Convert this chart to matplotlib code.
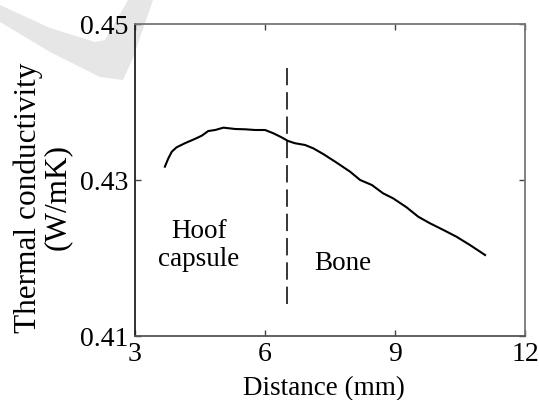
import matplotlib
matplotlib.use('Agg')
import matplotlib.pyplot as plt
from matplotlib.patches import Polygon

plt.rcParams['font.family'] = ['Liberation Serif', 'DejaVu Serif']

# thermal conductivity profile
distance = [3.70, 3.78, 3.86, 3.97, 4.16, 4.39, 4.55, 4.70, 4.86, 5.05,
            5.32, 5.55, 5.78, 6.01, 6.20, 6.39, 6.54, 6.70, 6.93, 7.12,
            7.35, 7.66, 7.97, 8.20, 8.47, 8.73, 8.96, 9.27, 9.54, 9.81,
            10.12, 10.42, 10.73, 11.08]
conductivity = [0.43171, 0.43278, 0.43363, 0.43419, 0.43471, 0.43526, 0.43568, 0.43628, 0.43641, 0.43671,
                0.43654, 0.43650, 0.43641, 0.43641, 0.43599, 0.43547, 0.43500, 0.43471, 0.43449, 0.43406,
                0.43333, 0.43222, 0.43106, 0.43000, 0.42936, 0.42829, 0.42765, 0.42650, 0.42529, 0.42445,
                0.42359, 0.42273, 0.42167, 0.42038]

boundary_x = 6.51
boundary_y = [0.4141, 0.4444]

xticks = [3, 6, 9, 12]
yticks = [0.41, 0.43, 0.45]
ytick_labels = ['0.41', '0.43', '0.45']

W, H = 539, 400
fig = plt.figure(figsize=(W / 100, H / 100), dpi=100)

# light grey watermark swoosh in the top left corner (pixel coords from top)
swoosh = [(0, 5), (50, 28), (95, 42), (105, 40), (128, 0), (153, 0),
          (133, 58), (123, 80), (100, 77), (50, 52), (0, 22)]
fig.patches.append(Polygon([(px / W, 1 - py / H) for px, py in swoosh],
                           closed=True, transform=fig.transFigure,
                           facecolor='#e6e6e6', edgecolor='none', zorder=-5))

ax = fig.add_axes([134.5 / W, 1 - 336 / H, (525 - 134.5) / W, (336 - 24) / H])
ax.set_facecolor('none')
ax.set_zorder(2)

ax.plot(distance, conductivity, color='black', lw=1.5)
ax.plot([boundary_x, boundary_x], boundary_y, color='black', lw=1.1,
        dashes=(12.5 / 1.1, 5 / 1.1))

ax.text(4.48, 0.42155, 'Hoof\ncapsule', ha='center', va='center',
        fontsize=19.5, linespacing=1.15)
ax.text(7.81, 0.41932, 'Bone', ha='center', va='center', fontsize=19.5)

ax.set_xlim(3, 12)
ax.set_ylim(0.41, 0.45)
ax.set_xticks(xticks)
ax.set_yticks(yticks)
ax.set_yticklabels(ytick_labels)
ax.tick_params(direction='in', length=4, width=1, labelsize=20,
               top=True, right=True, pad=4.5, colors='#444', labelcolor='black')

ax.spines['left'].set_color('#222')
ax.spines['bottom'].set_color('#555')
ax.spines['top'].set_color('#777')
ax.spines['right'].set_color('#777')
for s in ax.spines.values():
    s.set_linewidth(1.3)

fig.text(43 / W, 1 - 197.5 / H, 'Thermal conductivity\n(W/mK)', rotation=90,
         ha='center', va='center', fontsize=22.5, linespacing=1.0, zorder=3)
fig.text(324 / W, 1 - 389 / H, 'Distance (mm)', ha='center', va='center',
         fontsize=19.5, zorder=3)

fig.savefig('out.png', dpi=100)
